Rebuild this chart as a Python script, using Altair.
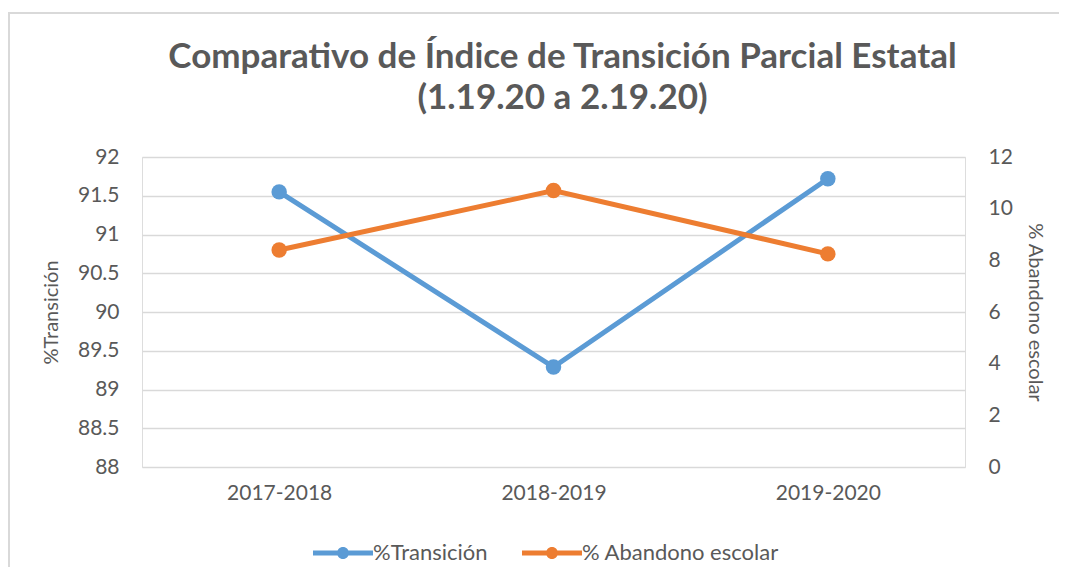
import altair as alt
import pandas as pd

ciclos = ["2017-2018", "2018-2019", "2019-2020"]
transicion = [91.55, 89.29, 91.72]
abandono = [8.4, 10.7, 8.25]
series = ["%Transición", "% Abandono escolar"]
colores = ["#5B9BD5", "#ED7D31"]
ticks_izq = [88, 88.5, 89, 89.5, 90, 90.5, 91, 91.5, 92]
ticks_der = [0, 2, 4, 6, 8, 10, 12]

df_t = pd.DataFrame({"ciclo": ciclos, "serie": series[0], "valor": transicion})
df_a = pd.DataFrame({"ciclo": ciclos, "serie": series[1], "valor": abandono})

FONT = "Lato"
GRIS = "#595959"

x_enc = alt.X("ciclo:N", sort=ciclos,
              scale=alt.Scale(type="point", padding=0.5),
              axis=alt.Axis(title=None, domain=False, ticks=False, labelFontSize=21,
                            labelColor=GRIS, labelFont=FONT, labelPadding=15, labelAngle=0))
color_enc = alt.Color("serie:N",
                      scale=alt.Scale(domain=series, range=colores),
                      legend=alt.Legend(title=None, orient="none", direction="horizontal",
                                        legendX=190, legendY=385,
                                        symbolType="M-5,-0.4L5,-0.4L5,0.4L-5,0.4Z M1,0A1,1,0,1,1,-1,0A1,1,0,1,1,1,0Z",
                                        symbolSize=144, symbolStrokeWidth=0, symbolOpacity=1,
                                        labelOffset=19, columnPadding=34, labelLimit=400,
                                        labelFontSize=22, labelColor=GRIS, labelFont=FONT))

y_left = alt.Y("valor:Q", scale=alt.Scale(domain=[88, 92], nice=False, zero=False),
               axis=alt.Axis(orient="left", title="%Transición", values=ticks_izq, format=".1~f",
                             domain=False, ticks=False, grid=True, gridColor="#D9D9D9",
                             gridWidth=1.3, labelFontSize=21, labelColor=GRIS, labelFont=FONT,
                             labelPadding=23, titleFontSize=20, titleColor=GRIS, titleFont=FONT,
                             titleFontWeight="normal", titlePadding=16))
y_right = alt.Y("valor:Q", scale=alt.Scale(domain=[0, 12], nice=False),
                axis=alt.Axis(orient="right", title="% Abandono escolar", values=ticks_der,
                              domain=False, ticks=False, grid=False, labelFontSize=21,
                              labelColor=GRIS, labelFont=FONT, labelPadding=23,
                              titleFontSize=20, titleColor=GRIS, titleFont=FONT,
                              titleFontWeight="normal", titlePadding=12))

base_t = alt.Chart(df_t)
left = alt.layer(
    base_t.mark_line(strokeWidth=5).encode(x=x_enc, y=y_left, color=color_enc),
    base_t.mark_point(filled=True, size=240, opacity=1).encode(x=x_enc, y=y_left, color=color_enc),
)
base_a = alt.Chart(df_a)
right = alt.layer(
    base_a.mark_line(strokeWidth=5).encode(x=x_enc, y=y_right, color=color_enc),
    base_a.mark_point(filled=True, size=240, opacity=1).encode(x=x_enc, y=y_right, color=color_enc),
)

frame_df = pd.DataFrame({"k": [0]})
frame_v = alt.Chart(frame_df).mark_rule(color="#D9D9D9", strokeWidth=2).encode(
    x=alt.value(-133), y=alt.value(-144), y2=alt.value(440))
frame_h = alt.Chart(frame_df).mark_rule(color="#D9D9D9", strokeWidth=2).encode(
    x=alt.value(-134), x2=alt.value(920), y=alt.value(-144))

chart = alt.layer(frame_v, frame_h, left, right).resolve_scale(y="independent").properties(
    width=823, height=310,
    autosize=alt.AutoSizeParams(type="none"),
    padding={"left": 134, "top": 149, "right": 94, "bottom": 100},
    title=alt.TitleParams(
        text=["Comparativo de Índice de Transición Parcial Estatal", "(1.19.20 a 2.19.20)"],
        fontSize=35, font=FONT, fontWeight="bold", color=GRIS, anchor="middle",
        baseline="bottom", frame="group", lineHeight=41, offset=-139, dx=9),
).configure_view(stroke=None).configure(background="white")

chart.save("out.html", embed_options={"renderer": "svg", "actions": False})
